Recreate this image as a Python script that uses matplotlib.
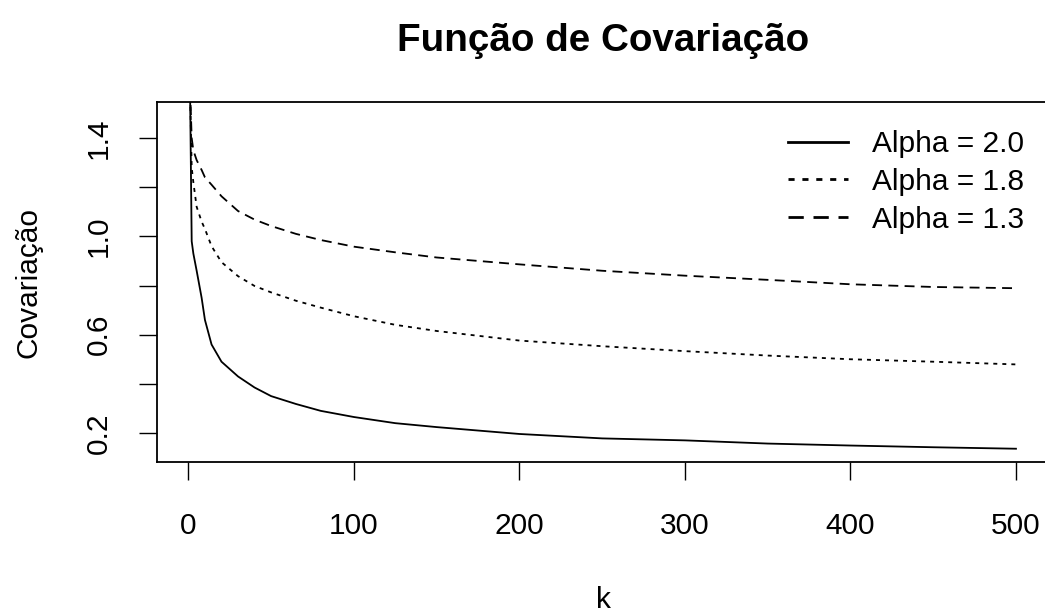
import numpy as np
import matplotlib
matplotlib.use("Agg")
import matplotlib.pyplot as plt
from matplotlib.lines import Line2D

plt.rcParams['font.family'] = ['Liberation Sans', 'DejaVu Sans']

# lag values
k = [1, 2, 3, 5, 8, 10, 14, 20, 30, 40, 50, 65, 80, 100, 125, 150,
     200, 250, 300, 350, 400, 450, 500]

cov_20 = [1.60, 0.98, 0.93, 0.86, 0.75, 0.66, 0.56, 0.49, 0.43, 0.385,
          0.35, 0.318, 0.29, 0.265, 0.24, 0.224, 0.196, 0.178, 0.17,
          0.157, 0.149, 0.142, 0.136]
cov_18 = [1.60, 1.28, 1.22, 1.12, 1.06, 1.03, 0.96, 0.895, 0.838, 0.798,
          0.772, 0.738, 0.71, 0.675, 0.64, 0.615, 0.576, 0.553, 0.533,
          0.515, 0.50, 0.49, 0.479]
cov_13 = [1.60, 1.40, 1.35, 1.31, 1.27, 1.24, 1.21, 1.163, 1.103, 1.068,
          1.042, 1.01, 0.985, 0.958, 0.935, 0.914, 0.886, 0.86, 0.84,
          0.823, 0.805, 0.794, 0.789]

labels = ["Alpha = 2.0", "Alpha = 1.8", "Alpha = 1.3"]
xticks = [0, 100, 200, 300, 400, 500]
yticks = [0.2, 0.6, 1.0, 1.4]

W, H = 1045, 613
fig = plt.figure(figsize=(W / 100, H / 100), dpi=100)
# box runs a bit past the right edge of the picture, like the original
ax = fig.add_axes([157 / W, 1 - 462 / H, (1049 - 157) / W, 360 / H])

lw = 1.3
dots = (0, (2.2, 2.8))
dashes = (0, (5.5, 3.5))
ax.plot(k, cov_20, color="black", lw=lw, linestyle="-")
ax.plot(k, cov_18, color="black", lw=lw, linestyle=dots)
ax.plot(k, cov_13, color="black", lw=lw, linestyle=dashes)

ax.set_xlim(-18.96, 519.96)
ax.set_ylim(0.082, 1.5465)

# ticks at 0.4, 0.8, 1.2 have no label in the original
ax.set_yticks([0.2, 0.4, 0.6, 0.8, 1.0, 1.2, 1.4])
ax.set_yticklabels(["0.2", "", "0.6", "", "1.0", "", "1.4"])
ax.set_xticks(xticks)
ax.set_xticklabels([str(t) for t in xticks])

fs = 21.5
ax.tick_params(axis="both", direction="out", length=13, width=1.0,
               labelsize=fs)
ax.tick_params(axis="x", pad=23)
ax.tick_params(axis="y", pad=19)
for lab in ax.get_yticklabels():
    lab.set_rotation(90)
    lab.set_va("center")

for s in ax.spines.values():
    s.set_linewidth(1.3)

ax.set_title("Função de Covariação", fontsize=27.8, fontweight="bold", pad=37)
ax.set_xlabel("k", fontsize=fs, labelpad=33)
ax.set_ylabel("Covariação", fontsize=fs, labelpad=30)

handles = [
    Line2D([], [], color="black", lw=2.0, linestyle="-"),
    Line2D([], [], color="black", lw=2.0, linestyle=dots),
    Line2D([], [], color="black", lw=2.0, linestyle=dashes),
]
leg = ax.legend(handles, labels, loc="upper left",
                bbox_to_anchor=(788 / W, 1 - 130 / H),
                bbox_transform=fig.transFigure, frameon=False,
                fontsize=fs, handlelength=2.0, handletextpad=0.8,
                labelspacing=0.33, borderpad=0, borderaxespad=0)

fig.savefig("out.png", dpi=100)
